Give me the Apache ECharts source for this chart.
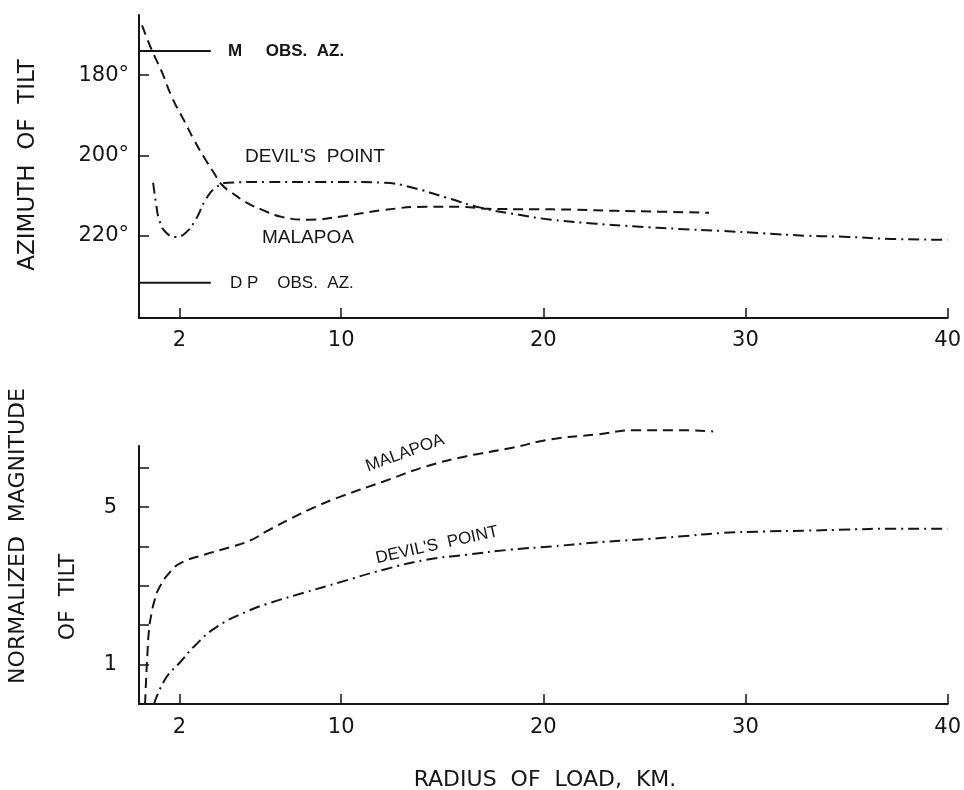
<!DOCTYPE html>
<html>
<head>
<meta charset="utf-8">
<title>Azimuth and magnitude of tilt</title>
<script src="https://cdn.jsdelivr.net/npm/echarts@6/dist/echarts.min.js"></script>
<style>
html,body{margin:0;padding:0;background:#fff;}
#chart{width:964px;height:790px;}
</style>
</head>
<body>
<div id="chart"></div>
<script>
// radius of load, km (shared x axis)
var xTicks = [2, 10, 20, 30, 40];

// top panel: azimuth of tilt, degrees
var azTicks = [180, 200, 220];
var malapoaAzX = [0.15, 0.64, 1.14, 1.63, 2.22, 2.72, 3.21, 3.7, 4.1, 4.6, 5.28, 6.07, 7.06, 8.4, 10.0, 12.1, 14.2, 15.9, 17.3, 19.4, 21.5, 23.6, 25.7, 28.2];
var malapoaAzY = [167.6, 173.8, 179.3, 185.5, 191.2, 196.1, 200.4, 204.3, 207.3, 209.3, 211.6, 213.5, 215.3, 216.0, 215.2, 213.6, 212.8, 212.8, 213.3, 213.4, 213.5, 213.8, 214.0, 214.3];
var devilAzX = [0.7, 0.84, 1.0, 1.3, 1.8, 2.3, 2.8, 3.3, 3.8, 4.4, 6.3, 8.7, 10.0, 12.1, 13.5, 15.2, 16.9, 18.8, 20.4, 22.6, 24.6, 26.7, 28.8, 30.9, 33.0, 35.1, 37.2, 40.0];
var devilAzY = [206.8, 211.8, 216.0, 219.0, 220.3, 219.3, 216.0, 211.0, 208.0, 206.8, 206.6, 206.6, 206.6, 206.8, 208.0, 210.5, 213.0, 214.8, 216.0, 217.0, 217.7, 218.3, 218.8, 219.4, 220.0, 220.3, 220.8, 221.0];
var obsAzX = [0, 3.55];
var mObsAz = 174.0;
var dpObsAz = 231.7;

// bottom panel: normalized magnitude of tilt
var magTicks = [1, 2, 3, 4, 5, 6];
var magLabels = [1, 5];
var malapoaMagX = [0.3, 0.35, 0.42, 0.5, 0.62, 0.78, 1.0, 1.5, 2.1, 3.3, 4.5, 5.5, 6.3, 7.6, 8.7, 10.0, 12.1, 14.2, 16.2, 18.4, 20.4, 22.6, 24.6, 26.7, 28.4];
var malapoaMagY = [0, 0.6, 1.3, 1.9, 2.3, 2.65, 2.95, 3.33, 3.59, 3.8, 3.98, 4.15, 4.38, 4.73, 5.0, 5.27, 5.65, 6.03, 6.29, 6.5, 6.72, 6.84, 6.95, 6.95, 6.92];
var devilMagX = [0.74, 1.33, 2.0, 2.8, 3.85, 5.3, 6.5, 8.2, 10.0, 12.1, 14.2, 16.2, 18.4, 20.4, 22.6, 24.6, 26.7, 28.8, 30.9, 33.0, 35.1, 37.2, 40.0];
var devilMagY = [0, 0.66, 1.04, 1.5, 1.96, 2.34, 2.57, 2.83, 3.1, 3.41, 3.66, 3.79, 3.92, 4.0, 4.1, 4.17, 4.25, 4.34, 4.38, 4.4, 4.43, 4.45, 4.45];

(function(){
	var ink = '#151515';
	var tickFont = 'DejaVu Sans';
	var dashed = [10, 6];
	var dashDot = [11, 5, 2, 5];

	function pairs(xs, ys){
		var out = [];
		for(var i=0;i<xs.length;i++){
			out.push([xs[i], ys[i]]);
		}
		return out;
	}

	function flat(xs, v){
		return xs.map(function(x){ return [x, v]; });
	}

	function xAxis(idx, margin){
		return {
			type: 'value', gridIndex: idx, min: 0, max: 40,
			axisLine: {lineStyle: {color: ink, width: 2}},
			axisTick: {inside: true, length: 10, lineStyle: {color: ink, width: 1.5}, customValues: xTicks},
			axisLabel: {customValues: xTicks, color: ink, fontFamily: tickFont, fontSize: 21, margin: margin},
			splitLine: {show: false}
		};
	}

	function curve(name, idx, data, dash, clip){
		return {
			name: name, type: 'line', xAxisIndex: idx, yAxisIndex: idx,
			data: data, showSymbol: false, smooth: 0.5,
			clip: clip, silent: true,
			lineStyle: {color: ink, width: 2, type: dash, cap: 'butt', join: 'round'}
		};
	}

	function label(text, x, y, size, opt){
		opt = opt || {};
		return {
			type: 'text', x: x, y: y, rotation: opt.rot || 0,
			style: {
				text: text, fill: ink,
				font: (opt.weight || 'normal') + ' ' + size + 'px ' + (opt.family || 'Liberation Sans'),
				align: opt.align || 'left', verticalAlign: 'middle'
			}
		};
	}

	var option = {
		animation: false,
		backgroundColor: '#fff',
		grid: [
			{left: 139, top: 15, width: 813, height: 303},
			{left: 139, top: 446, width: 813, height: 258}
		],
		xAxis: [xAxis(0, 12), xAxis(1, 13)],
		yAxis: [
			{
				type: 'value', gridIndex: 0, min: 165, max: 240.5, inverse: true,
				axisLine: {show: true, lineStyle: {color: ink, width: 2}},
				axisTick: {show: true, inside: true, length: 10, lineStyle: {color: ink, width: 1.5}, customValues: azTicks},
				axisLabel: {customValues: azTicks, color: ink, fontFamily: tickFont, fontSize: 21, margin: 10,
					formatter: function(v){ return v + '°'; }},
				splitLine: {show: false}
			},
			{
				type: 'value', gridIndex: 1, min: 0, max: 6.55,
				axisLine: {show: true, lineStyle: {color: ink, width: 2}},
				axisTick: {show: true, inside: true, length: 10, lineStyle: {color: ink, width: 1.5}, customValues: magTicks},
				axisLabel: {customValues: magLabels, color: ink, fontFamily: tickFont, fontSize: 21, margin: 22},
				splitLine: {show: false}
			}
		],
		series: [
			curve('M obs. az.', 0, flat(obsAzX, mObsAz), 'solid', true),
			curve('DP obs. az.', 0, flat(obsAzX, dpObsAz), 'solid', true),
			curve('Malapoa azimuth', 0, pairs(malapoaAzX, malapoaAzY), dashed, true),
			curve("Devil's Point azimuth", 0, pairs(devilAzX, devilAzY), dashDot, true),
			curve('Malapoa magnitude', 1, pairs(malapoaMagX, malapoaMagY), dashed, false),
			curve("Devil's Point magnitude", 1, pairs(devilMagX, devilMagY), dashDot, false)
		],
		graphic: [
			label('AZIMUTH  OF  TILT', 28, 165, 23, {rot: Math.PI/2, align: 'center', family: 'DejaVu Sans'}),
			label('NORMALIZED  MAGNITUDE', 18, 536, 22, {rot: Math.PI/2, align: 'center', family: 'DejaVu Sans'}),
			label('OF  TILT', 68, 597, 22, {rot: Math.PI/2, align: 'center', family: 'DejaVu Sans'}),
			label('RADIUS  OF  LOAD,  KM.', 545, 780, 22, {align: 'center', family: 'DejaVu Sans'}),
			label('M     OBS.  AZ.', 228, 51, 17, {weight: 'bold'}),
			label('D P    OBS.  AZ.', 230, 283, 17),
			label("DEVIL'S  POINT", 245, 157, 19),
			label('MALAPOA', 262, 238, 19),
			label('MALAPOA', 405, 453, 17, {rot: 20 * Math.PI / 180, align: 'center'}),
			label("DEVIL'S  POINT", 437, 545, 17, {rot: 12.6 * Math.PI / 180, align: 'center'})
		]
	};

	var chart = echarts.init(document.getElementById('chart'), null, {renderer: 'canvas'});
	chart.setOption(option);
})();
</script>
</body>
</html>
